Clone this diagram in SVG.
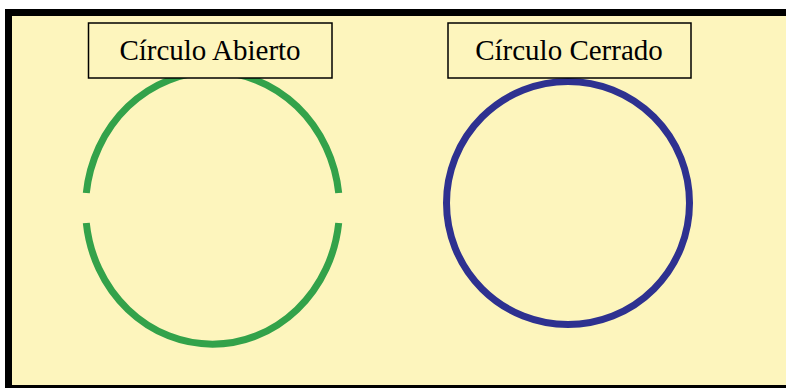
<svg xmlns="http://www.w3.org/2000/svg" width="786" height="388" viewBox="0 0 786 388">
<style>
.lbl{fill:#fdf5bd;stroke:#000;stroke-width:1.5}
.t{font-family:"Liberation Serif","Times New Roman",serif;font-size:29px;fill:#000;text-anchor:middle}
</style>
<rect x="0" y="0" width="786" height="388" fill="#ffffff"/>
<rect x="5" y="9" width="790" height="381" fill="#000"/>
<rect x="12" y="16" width="780" height="369" fill="#fdf5bd"/>
<g id="open-circle">
<path d="M86.3 193 A127 136.5 0 0 1 338.7 193" fill="none" stroke="#33a24a" stroke-width="7"/>
<path d="M86.3 223 A127 136.5 0 0 0 338.7 223" fill="none" stroke="#33a24a" stroke-width="7"/>
</g>
<g id="closed-circle">
<circle cx="568" cy="203" r="121.5" fill="none" stroke="#2e3190" stroke-width="7"/>
</g>
<g id="label-open">
<rect class="lbl" x="88.5" y="23" width="243.5" height="55"/>
<text class="t" x="210" y="60">Círculo Abierto</text>
</g>
<g id="label-closed">
<rect class="lbl" x="448" y="23" width="243" height="55"/>
<text class="t" x="569" y="60">Círculo Cerrado</text>
</g>
<g id="connectors"></g>
</svg>
